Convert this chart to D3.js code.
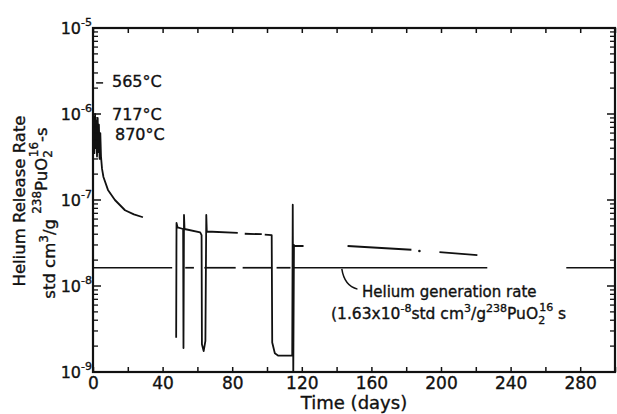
<!DOCTYPE html>
<html>
<head>
<meta charset="utf-8">
<script src="https://cdn.jsdelivr.net/npm/d3@7"></script>
<style>
  body { margin: 0; background: #fff; }
  text { font-family: "DejaVu Sans", sans-serif; fill: #111; stroke: #111; stroke-width: 0.35px; }
</style>
</head>
<body>
<svg id="chart" width="617" height="414"></svg>
<script>
// days on the x axis, release rate (std cm3/g s) on the log y axis
const dayTicks = d3.range(0, 301, 20);
const dayLabels = [0, 40, 80, 120, 160, 200, 240, 280];
const decades = [1e-9, 1e-8, 1e-7, 1e-6, 1e-5];
const decadeExp = ["-9", "-8", "-7", "-6", "-5"];

// early anneal steps (565, 717, 870 C) and decay
const earlyRelease = [
  [0.5, 9.5e-7], [0.8, 3.5e-7], [1.2, 1.0e-6], [1.5, 4.0e-7], [1.9, 8.5e-7],
  [2.3, 3.2e-7], [2.7, 9.0e-7], [3.0, 3.6e-7], [3.4, 7.5e-7], [3.8, 3.0e-7],
  [4.2, 6.0e-7], [4.6, 3.2e-7], [5.2, 2.3e-7], [6.0, 1.85e-7], [8.6, 1.31e-7],
  [12.6, 1.0e-7], [18.4, 7.6e-8], [23.5, 6.8e-8], [28.7, 6.3e-8]
];
// second run with drops
const midRelease = [
  [47.8, 2.5e-9], [48.0, 5.4e-8], [48.6, 4.8e-8], [51.8, 4.6e-8], [52.0, 1.9e-9],
  [52.3, 6.7e-8], [52.6, 4.6e-8], [61.6, 4.2e-8], [62.4, 3.9e-8], [62.6, 2.1e-9],
  [63.6, 1.75e-9], [64.6, 2.3e-9], [65.1, 6.7e-8], [65.4, 4.3e-8], [83.2, 4.15e-8]
];
const midRelease2 = [[87.2, 4.05e-8], [97.0, 4.0e-8]];
const midRelease3 = [
  [98.7, 3.95e-8], [102.7, 3.9e-8], [103.0, 2.2e-9], [104.5, 1.65e-9],
  [106.5, 1.55e-9], [114.5, 1.55e-9], [114.8, 8.8e-8], [115.1, 9e-10],
  [115.5, 3.0e-8], [116.0, 2.92e-8], [121.0, 2.92e-8]
];
const lateRelease1 = [[146.3, 2.92e-8], [183.0, 2.64e-8]];
const lateDot = [[187.6, 2.55e-8]];
const lateRelease2 = [[199.1, 2.48e-8], [220.9, 2.29e-8]];

const genRate = 1.63e-8;
const genSpans = [[0, 45.5], [53, 58], [64, 82], [86, 103], [105.5, 113.5], [115, 226.6], [272, 300]];

const svg = d3.select("#chart");
const margin = { top: 28, right: 2, bottom: 42, left: 93 };
const W = 617, H = 414;

const x = d3.scaleLinear().domain([0, 300]).range([margin.left, W - margin.right]);
const y = d3.scaleLog().domain([1e-9, 1e-5]).range([H - margin.bottom, margin.top]);

svg.append("clipPath").attr("id", "clip")
  .append("rect")
  .attr("x", x(0)).attr("y", y(1e-5))
  .attr("width", x(300) - x(0)).attr("height", y(1e-9) - y(1e-5));

const line = d3.line().x(d => x(d[0])).y(d => y(d[1]));
const plot = svg.append("g").attr("clip-path", "url(#clip)");

// generation rate line
plot.selectAll(".gen")
  .data(genSpans)
  .enter()
  .append("line")
  .attr("class", "gen")
  .attr("x1", d => x(d[0]))
  .attr("x2", d => x(d[1]))
  .attr("y1", y(genRate))
  .attr("y2", y(genRate))
  .attr("stroke", "#111")
  .attr("stroke-width", 1.7);

[earlyRelease, midRelease, midRelease2, midRelease3, lateRelease1, lateRelease2].forEach(s => {
  plot.append("path")
    .datum(s)
    .attr("fill", "none")
    .attr("stroke", "#111")
    .attr("stroke-width", 1.8)
    .attr("stroke-linejoin", "round")
    .attr("d", line);
});

plot.selectAll(".dot")
  .data(lateDot)
  .enter()
  .append("circle")
  .attr("cx", d => x(d[0]))
  .attr("cy", d => y(d[1]))
  .attr("r", 1.3)
  .attr("fill", "#111");

// frame
svg.append("rect")
  .attr("x", x(0)).attr("y", y(1e-5))
  .attr("width", x(300) - x(0)).attr("height", y(1e-9) - y(1e-5))
  .attr("fill", "none").attr("stroke", "#111").attr("stroke-width", 2.2);

// x ticks (bottom and top, inward)
const xb = svg.append("g")
  .attr("transform", `translate(0,${y(1e-9)})`)
  .call(d3.axisBottom(x).tickValues(dayTicks).tickSize(-5).tickPadding(5)
    .tickFormat(d => dayLabels.includes(d) ? d : ""));
xb.select(".domain").remove();
xb.selectAll("line").attr("stroke", "#111").attr("stroke-width", 1.5);
xb.selectAll("text").attr("font-size", 17).attr("font-family", "DejaVu Sans").attr("fill", "#111");

const xt = svg.append("g")
  .attr("transform", `translate(0,${y(1e-5)})`)
  .call(d3.axisTop(x).tickValues(dayTicks).tickSize(-5).tickFormat(""));
xt.select(".domain").remove();
xt.selectAll("line").attr("stroke", "#111").attr("stroke-width", 1.5);

// y ticks (left and right, inward)
const minor = [];
decades.slice(0, 4).forEach(d => { for (let k = 2; k <= 9; k++) minor.push(d * k); });

[[x(0), 1], [x(300), -1]].forEach(([x0, dir]) => {
  svg.append("g").selectAll("line")
    .data(minor)
    .enter()
    .append("line")
    .attr("x1", x0).attr("x2", x0 + dir * 5)
    .attr("y1", d => y(d)).attr("y2", d => y(d))
    .attr("stroke", "#111").attr("stroke-width", 1.3);
  svg.append("g").selectAll("line")
    .data(decades)
    .enter()
    .append("line")
    .attr("x1", x0).attr("x2", x0 + dir * 8)
    .attr("y1", d => y(d)).attr("y2", d => y(d))
    .attr("stroke", "#111").attr("stroke-width", 1.5);
});

const ylab = svg.append("g").selectAll("text")
  .data(decades)
  .enter()
  .append("text")
  .attr("x", 92)
  .attr("y", d => y(d) + 6)
  .attr("text-anchor", "end")
  .attr("font-size", 16);
ylab.append("tspan").text("10");
ylab.append("tspan").attr("dy", -8).attr("font-size", 11).text((d, i) => decadeExp[i]);

// axis titles
svg.append("text")
  .attr("x", x(150)).attr("y", 409)
  .attr("text-anchor", "middle")
  .attr("font-size", 18)
  .text("Time (days)");

svg.append("text")
  .attr("transform", "translate(25,201) rotate(-90)")
  .attr("text-anchor", "middle")
  .attr("font-size", 16.5)
  .text("Helium Release Rate");

const yl2 = svg.append("text")
  .attr("transform", "translate(55,213) rotate(-90)")
  .attr("text-anchor", "middle")
  .attr("font-size", 16.5);
yl2.append("tspan").text("std cm");
yl2.append("tspan").attr("dy", -7).attr("font-size", 12).text("3");
yl2.append("tspan").attr("dy", 7).text("/g ");
yl2.append("tspan").attr("dy", -14).attr("font-size", 12).text("238");
yl2.append("tspan").attr("dy", 6).text("PuO");
yl2.append("tspan").attr("dy", 5).attr("font-size", 12).text("2");
yl2.append("tspan").attr("dx", -7).attr("dy", -14).attr("font-size", 12).text("16");
yl2.append("tspan").attr("dy", 9).text("-s");

// temperature annotations
svg.append("line")
  .attr("x1", x(1.8)).attr("x2", x(5.8))
  .attr("y1", y(2.3e-6)).attr("y2", y(2.3e-6))
  .attr("stroke", "#111").attr("stroke-width", 1.5);
const temps = [["565\u00b0C", 112, 87], ["717\u00b0C", 112, 120], ["870\u00b0C", 115, 140]];
svg.append("g").selectAll("text")
  .data(temps)
  .enter()
  .append("text")
  .attr("x", d => d[1]).attr("y", d => d[2])
  .attr("font-size", 16)
  .text(d => d[0]);

// generation rate note
svg.append("path")
  .attr("d", `M${x(143)},${y(1.58e-8)} Q${x(144.5)},${y(1.0e-8)} ${x(152)},${y(9.2e-9)}`)
  .attr("fill", "none").attr("stroke", "#111").attr("stroke-width", 1.5);

svg.append("text")
  .attr("x", 362).attr("y", 297)
  .attr("font-size", 15)
  .text("Helium generation rate");

const note = svg.append("text")
  .attr("x", 331).attr("y", 319)
  .attr("font-size", 15.5);
note.append("tspan").text("(1.63x10");
note.append("tspan").attr("dy", -7).attr("font-size", 11).text("-8");
note.append("tspan").attr("dy", 7).text("std cm");
note.append("tspan").attr("dy", -7).attr("font-size", 11).text("3");
note.append("tspan").attr("dy", 7).text("/g");
note.append("tspan").attr("dy", -7).attr("font-size", 11).text("238");
note.append("tspan").attr("dy", 7).text("PuO");
note.append("tspan").attr("dy", 5).attr("font-size", 11).text("2");
note.append("tspan").attr("dx", -6).attr("dy", -13).attr("font-size", 11).text("16");
note.append("tspan").attr("dy", 8).text(" s");
</script>
</body>
</html>
